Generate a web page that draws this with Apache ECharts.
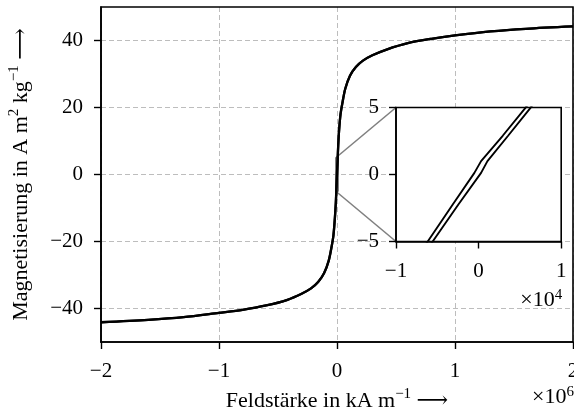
<!DOCTYPE html>
<html>
<head>
<meta charset="utf-8">
<script src="https://cdn.jsdelivr.net/npm/echarts@6/dist/echarts.min.js"></script>
<style>
  html, body { margin: 0; padding: 0; background: #fff; }
  #chart { width: 574px; height: 411px; }
</style>
</head>
<body>
<div id="chart"></div>
<script>
// Hysteresis loop: field strength H (A/m) against magnetisation M (A m^2 / kg)

// Descending branch, coming from positive saturation
const descH = [2e6, 1.6e6, 1.3e6, 1e6, 0.8e6, 0.6e6, 0.42e6, 0.3e6, 0.22e6, 0.16e6, 0.11e6, 0.07e6, 0.045e6, 0.03e6, 0.018e6, 0.01e6,
               5670, 2920, 300, -510, -3130, -6160,
               -0.01e6, -0.018e6, -0.03e6, -0.045e6, -0.07e6, -0.11e6, -0.16e6, -0.22e6, -0.3e6, -0.42e6, -0.6e6, -0.8e6, -1e6, -1.3e6, -1.6e6, -2e6];
const descM = [44.2, 43.5, 42.7, 41.5, 40.5, 39.2, 37.3, 35.6, 34.0, 32.1, 29.5, 25.6, 21.2, 18.0, 13.3, 8.6,
               4.97, 2.89, 1.0, 0.12, -2.24, -5.0,
               -8.3, -13.0, -18.1, -21.4, -25.7, -29.5, -32.1, -34.0, -35.6, -37.4, -39.1, -40.4, -41.3, -42.6, -43.4, -44.1];

// Ascending branch, coming from negative saturation
const ascH = [-2e6, -1.6e6, -1.3e6, -1e6, -0.8e6, -0.6e6, -0.42e6, -0.3e6, -0.22e6, -0.16e6, -0.11e6, -0.07e6, -0.045e6, -0.03e6, -0.018e6, -0.01e6,
              -5560, -2450, 300, 1070, 3570, 6280,
              0.01e6, 0.018e6, 0.03e6, 0.045e6, 0.07e6, 0.11e6, 0.16e6, 0.22e6, 0.3e6, 0.42e6, 0.6e6, 0.8e6, 1e6, 1.3e6, 1.6e6, 2e6];
const ascM = [-44.1, -43.4, -42.6, -41.3, -40.4, -39.1, -37.4, -35.6, -34.0, -32.1, -29.5, -25.7, -21.4, -18.1, -13.0, -8.6,
              -5.0, -2.24, 0.12, 1.0, 2.89, 4.97,
              8.3, 13.3, 18.0, 21.2, 25.6, 29.5, 32.1, 34.0, 35.6, 37.3, 39.2, 40.5, 41.5, 42.7, 43.5, 44.2];

// Axis ranges and tick positions
const mainXRange = [-2e6, 2e6];
const mainYRange = [-50, 50];
const mainXTicks = [-2e6, -1e6, 0, 1e6, 2e6];
const mainYTicks = [-40, -20, 0, 20, 40];
const insetXRange = [-1e4, 1e4];
const insetYRange = [-5, 5];
const insetXTicks = [-1e4, 0, 1e4];
const insetYTicks = [-5, 0, 5];
// Where the zoomed panel sits, in main-axis data units
const insetPlace = { x0: 0.5e6, x1: 1.9e6, y0: -20, y1: 20 };

const FONT = "'Liberation Serif', 'DejaVu Serif', serif";
const FS = 21;      // tick labels
const FSN = 22;     // axis titles
const minus = s => String(s).replace('-', '\u2212');
const zip = (a, b) => a.map((v, i) => [v, b[i]]);
const loopDesc = zip(descH, descM);
const loopAsc = zip(ascH, ascM);

const supRich = {
  sup: { fontFamily: FONT, fontSize: 15, lineHeight: 15, verticalAlign: 'top', color: '#000' }
};

const baseLabel = { fontFamily: FONT, fontSize: FS, color: '#000' };

function axisCommon(ticks, fmt, margin, z) {
  return {
    type: 'value',
    z: z,
    axisLine: { show: true, onZero: false, lineStyle: { color: '#000', width: 1.6 } },
    axisTick: { show: true, length: 7, inside: false, customValues: ticks, lineStyle: { color: '#000', width: 1.4 } },
    axisLabel: Object.assign({ customValues: ticks, formatter: fmt, margin: margin }, baseLabel),
  };
}

const chart = echarts.init(document.getElementById('chart'), null, { renderer: 'canvas' });

const mainX = Object.assign(axisCommon(mainXTicks, v => minus(Math.round(v / 1e6)), 19, 1), {
  gridIndex: 0, min: mainXRange[0], max: mainXRange[1],
  splitLine: { show: true, lineStyle: { color: '#bdbdbd', width: 1, type: [5, 3] } },
  name: 'Feldst\u00e4rke in kA m{sup|\u22121} \u27f6',
  nameLocation: 'middle', nameGap: 43,
  nameTextStyle: { fontFamily: FONT, fontSize: FSN, color: '#000', lineHeight: 28, rich: supRich }
});
const mainY = Object.assign(axisCommon(mainYTicks, v => minus(v), 18, 1), {
  gridIndex: 0, min: mainYRange[0], max: mainYRange[1],
  splitLine: { show: true, lineStyle: { color: '#bdbdbd', width: 1, type: [5, 3] } },
  name: 'Magnetisierung in A m{sup|2} kg{sup|\u22121} \u27f6',
  nameLocation: 'middle', nameGap: 66,
  nameTextStyle: { fontFamily: FONT, fontSize: FSN, color: '#000', lineHeight: 28, rich: supRich }
});
const insetX = Object.assign(axisCommon(insetXTicks, v => minus(Math.round(v / 1e4)), 19, 7), {
  gridIndex: 1, min: insetXRange[0], max: insetXRange[1], splitLine: { show: false }
});
const insetY = Object.assign(axisCommon(insetYTicks, v => minus(v), 17, 7), {
  gridIndex: 1, min: insetYRange[0], max: insetYRange[1], splitLine: { show: false }
});

const option = {
  backgroundColor: '#fff',
  animation: false,
  grid: [
    { left: 101, top: 7, width: 472, height: 335, show: true, borderColor: '#000', borderWidth: 1.6,
      backgroundColor: 'transparent', z: 3, outerBoundsMode: 'none', containLabel: false },
    { left: 397, top: 108, width: 165, height: 133, show: true, borderColor: '#000', borderWidth: 1.6,
      backgroundColor: '#fff', z: 6, outerBoundsMode: 'none', containLabel: false }
  ],
  xAxis: [mainX, insetX],
  yAxis: [mainY, insetY],
  series: [
    // zoom indicator: small rectangle plus connectors to the panel's left corners
    { type: 'line', xAxisIndex: 0, yAxisIndex: 0, z: 4, showSymbol: false, silent: true,
      lineStyle: { color: '#808080', width: 1.6 },
      data: [[insetXRange[0], insetYRange[0]], [insetXRange[1], insetYRange[0]], [insetXRange[1], insetYRange[1]],
             [insetXRange[0], insetYRange[1]], [insetXRange[0], insetYRange[0]]] },
    { type: 'line', xAxisIndex: 0, yAxisIndex: 0, z: 4, showSymbol: false, silent: true,
      lineStyle: { color: '#808080', width: 1.6 },
      data: [[insetXRange[0], insetYRange[1]], [insetPlace.x0, insetPlace.y1]] },
    { type: 'line', xAxisIndex: 0, yAxisIndex: 0, z: 4, showSymbol: false, silent: true,
      lineStyle: { color: '#808080', width: 1.6 },
      data: [[insetXRange[0], insetYRange[0]], [insetPlace.x0, insetPlace.y0]] },
    // full loop
    { type: 'line', xAxisIndex: 0, yAxisIndex: 0, z: 5, showSymbol: false, smooth: 0.3, clip: true,
      lineStyle: { color: '#000', width: 2.3 }, data: loopDesc },
    { type: 'line', xAxisIndex: 0, yAxisIndex: 0, z: 5, showSymbol: false, smooth: 0.3, clip: true,
      lineStyle: { color: '#000', width: 2.3 }, data: loopAsc },
    // zoomed loop around the origin
    { type: 'line', xAxisIndex: 1, yAxisIndex: 1, z: 8, showSymbol: false, clip: true,
      lineStyle: { color: '#000', width: 1.9 }, data: loopDesc },
    { type: 'line', xAxisIndex: 1, yAxisIndex: 1, z: 8, showSymbol: false, clip: true,
      lineStyle: { color: '#000', width: 1.9 }, data: loopAsc }
  ]
};
chart.setOption(option);

// place the zoomed panel from its main-axis data bounds
const pTL = chart.convertToPixel({ gridIndex: 0 }, [insetPlace.x0, insetPlace.y1]);
const pBR = chart.convertToPixel({ gridIndex: 0 }, [insetPlace.x1, insetPlace.y0]);
const insetRect = { left: pTL[0], top: pTL[1], width: pBR[0] - pTL[0], height: pBR[1] - pTL[1] };
const mainRight = chart.convertToPixel({ gridIndex: 0 }, [mainXRange[1], mainYRange[0]]);

const offsetText = (txt, x, y) => ({
  type: 'text', z: 9, x: x, y: y,
  style: { text: txt, fontFamily: FONT, fontSize: FSN, fill: '#000', align: 'right', verticalAlign: 'top',
           rich: { sup: { fontFamily: FONT, fontSize: 15, lineHeight: 15, verticalAlign: 'top', fill: '#000' },
                   b: { fontFamily: FONT, fontSize: FSN, lineHeight: 25, fill: '#000' } } }
});

chart.setOption({
  grid: [{}, insetRect],
  graphic: [
    offsetText('{b|\u00d710}{sup|6}', mainRight[0] + 1, mainRight[1] + 43),
    offsetText('{b|\u00d710}{sup|4}', insetRect.left + insetRect.width + 1, insetRect.top + insetRect.height + 46)
  ]
});
</script>
</body>
</html>
